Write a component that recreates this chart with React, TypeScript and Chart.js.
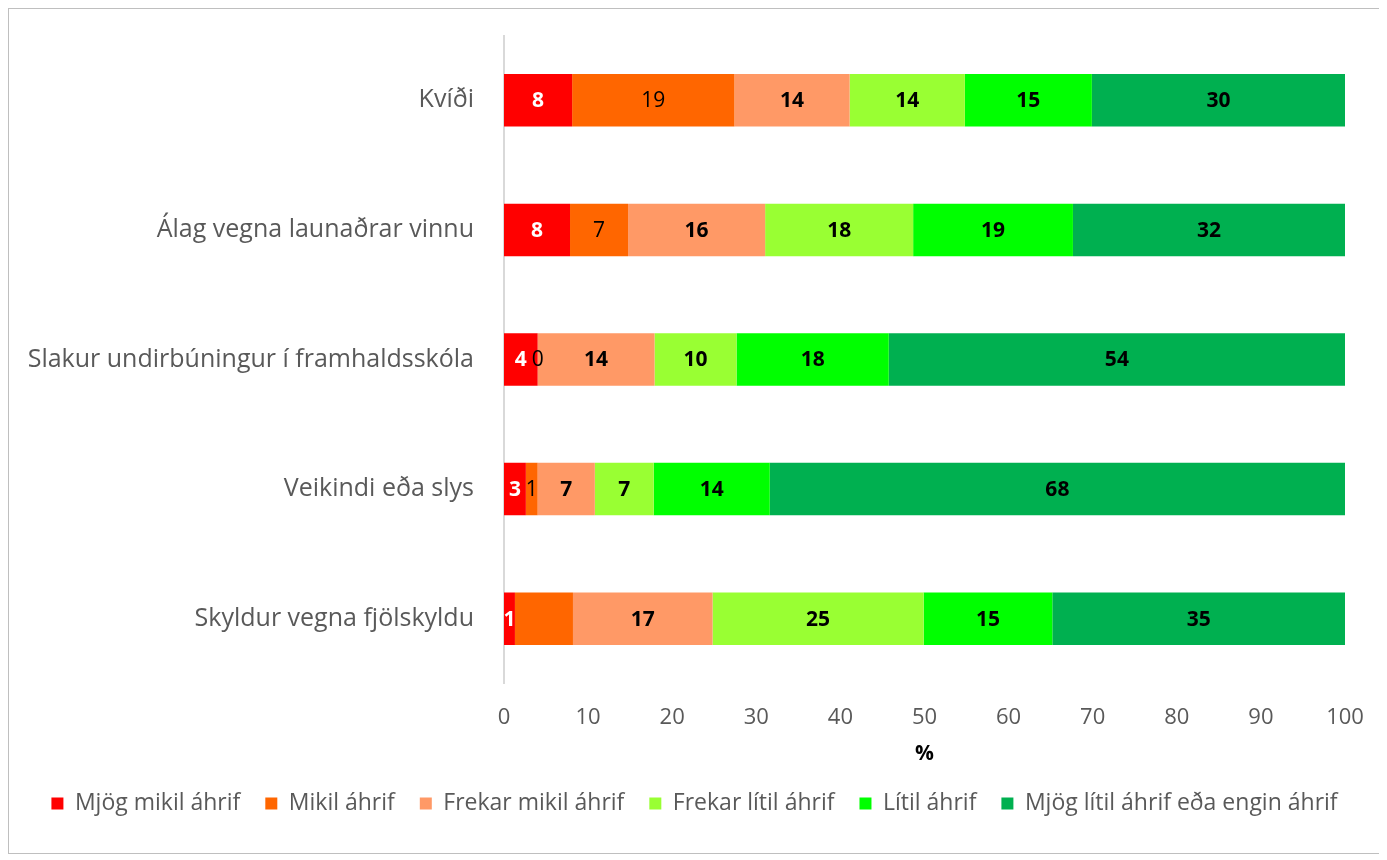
import React, { useEffect, useRef } from "react";
import { Chart, registerables } from "chart.js";

Chart.register(...registerables);

const categories = [
  "Kvíði",
  "Álag vegna launaðrar vinnu",
  "Slakur undirbúningur í framhaldsskóla",
  "Veikindi eða slys",
  "Skyldur vegna fjölskyldu",
];

const seriesNames = [
  "Mjög mikil áhrif",
  "Mikil áhrif",
  "Frekar mikil áhrif",
  "Frekar lítil áhrif",
  "Lítil áhrif",
  "Mjög lítil áhrif eða engin áhrif",
];

const mjogMikil = [8.1, 7.85, 4.0, 2.6, 1.3];
const mikil = [19.3, 6.9, 0, 1.4, 6.9];
const frekarMikil = [13.7, 16.3, 13.9, 6.8, 16.6];
const frekarLitil = [13.7, 17.6, 9.75, 7.0, 25.1];
const litil = [15.1, 19.0, 18.1, 13.8, 15.3];
const engin = [30.1, 32.35, 54.25, 68.4, 34.8];

const seriesValues = [mjogMikil, mikil, frekarMikil, frekarLitil, litil, engin];
const colors = ["#FF0000", "#FF6600", "#FF9966", "#99FF33", "#00FF00", "#00B050"];
const labelColors = ["#FFFFFF", "#000000", "#000000", "#000000", "#000000", "#000000"];
const labelBold = [true, false, true, true, true, true];
// [seriesIndex, categoryIndex] labels not shown in the original
const hiddenLabels = [[1, 4]];

const xTicks = [0, 10, 20, 30, 40, 50, 60, 70, 80, 90, 100];

const FONT = "'Open Sans', 'Noto Sans', sans-serif";

const labelPlugin = {
  id: "barLabels",
  afterDatasetsDraw(chart: any) {
    const ctx = chart.ctx;
    ctx.save();
    ctx.textAlign = "center";
    ctx.textBaseline = "middle";
    chart.data.datasets.forEach((ds: any, di: number) => {
      const meta = chart.getDatasetMeta(di);
      meta.data.forEach((bar: any, i: number) => {
        if (hiddenLabels.some(([a, b]) => a === di && b === i)) return;
        const v = ds.data[i];
        const x = (bar.x + bar.base) / 2;
        ctx.font = `${labelBold[di] ? "bold " : ""}21px ${FONT}`;
        ctx.fillStyle = labelColors[di];
        ctx.fillText(String(Math.round(v)), x, bar.y + 1);
      });
    });
    ctx.restore();
  },
};

export default function App() {
  const ref = useRef<HTMLCanvasElement>(null);
  useEffect(() => {
    if (!ref.current) return;
    const chart = new Chart(ref.current, {
      type: "bar",
      data: {
        labels: categories,
        datasets: seriesValues.map((vals, i) => ({
          label: seriesNames[i],
          data: vals,
          backgroundColor: colors[i],
          borderWidth: 0,
          barPercentage: 0.405,
          categoryPercentage: 1,
        })),
      },
      options: {
        indexAxis: "y",
        animation: false,
        responsive: false,
        maintainAspectRatio: false,
        layout: { padding: { top: 26.5, right: 0, bottom: 28, left: 0 } },
        plugins: {
          legend: {
            position: "bottom",
            labels: {
              boxWidth: 12,
              boxHeight: 12,
              padding: 25,
              color: "#595959",
              font: { size: 23, family: FONT },
            },
          },
          tooltip: { enabled: false },
        },
        scales: {
          x: {
            stacked: true,
            min: 0,
            max: 100,
            afterBuildTicks: (s: any) => {
              s.ticks = xTicks.map((v) => ({ value: v }));
            },
            afterFit: (s: any) => {
              s.height = 83.5;
              s.paddingLeft = 0;
              s.paddingRight = 35;
            },
            grid: { display: false },
            border: { display: false },
            ticks: { color: "#595959", font: { size: 22, family: FONT }, padding: 13 },
            title: {
              display: true,
              text: "%",
              color: "#000000",
              font: { size: 21, weight: "bold", family: FONT },
              padding: { top: 0, bottom: 0 },
            },
          },
          y: {
            stacked: true,
            grid: { display: false },
            border: { display: true, color: "#D9D9D9", width: 2 },
            ticks: { color: "#595959", font: { size: 25, family: FONT }, padding: 22 },
            afterFit: (s: any) => {
              s.width = 495;
              s.paddingTop = 0;
              s.paddingBottom = 0;
            },
          },
        },
      },
      plugins: [labelPlugin],
    });
    return () => chart.destroy();
  }, []);
  return (
    <div
      style={{
        width: 1373,
        height: 846,
        border: "1px solid #BFBFBF",
        boxSizing: "border-box",
        background: "#fff",
      }}
    >
      <canvas ref={ref} width={1371} height={844} style={{ display: "block" }} />
    </div>
  );
}
